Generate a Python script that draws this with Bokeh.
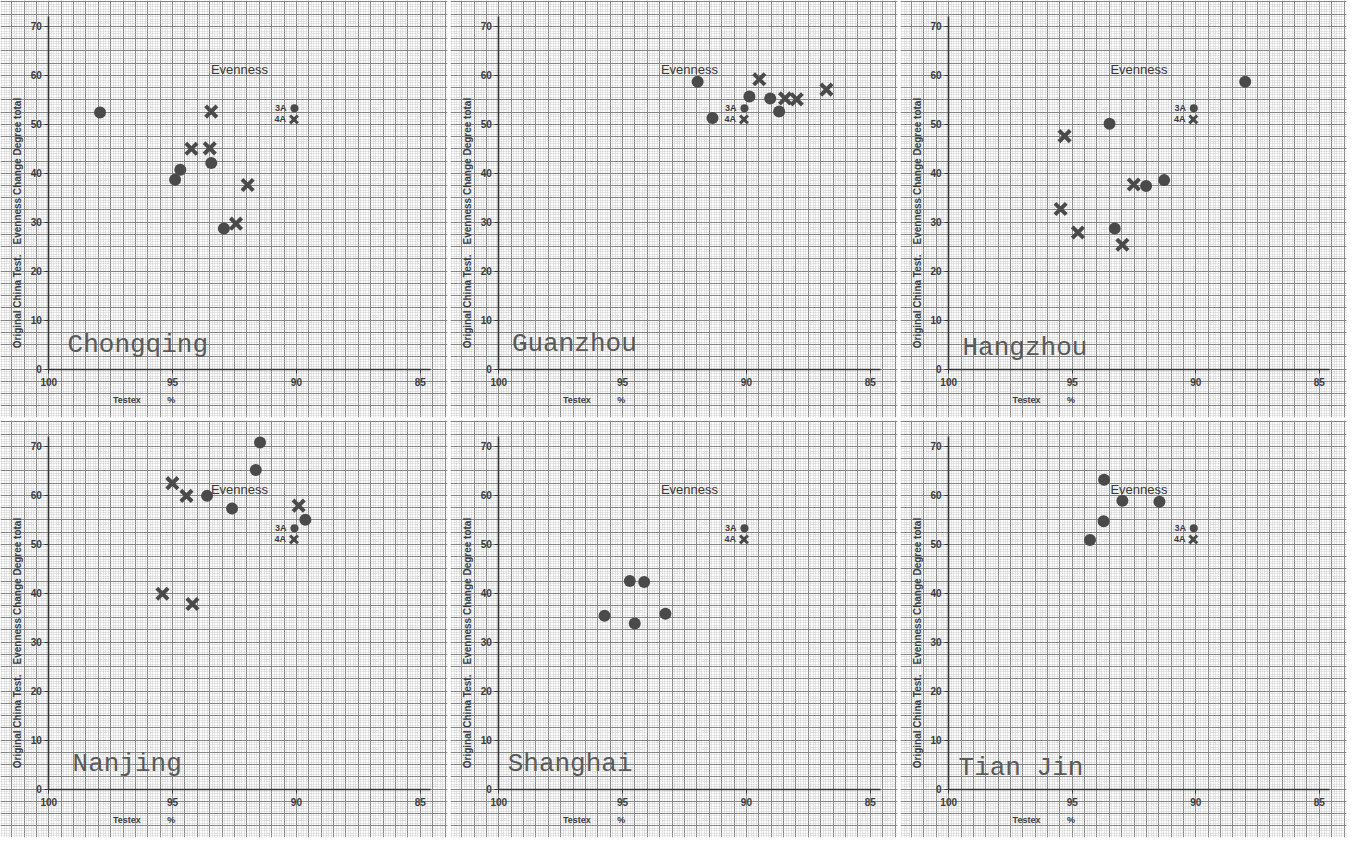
import math
from bokeh.plotting import figure
from bokeh.layouts import row, column
from bokeh.models import Range1d, LinearAxis, FixedTicker, SingleIntervalTicker, Grid
from bokeh.core.properties import value
from bokeh.embed import file_html
from bokeh.resources import INLINE

# ---------------- data ----------------
cities = ["Chongqing", "Guanzhou", "Hangzhou", "Nanjing", "Shanghai", "Tian Jin"]

x_ticks = [100, 95, 90, 85]
y_ticks = [0, 10, 20, 30, 40, 50, 60, 70]

# 3A (dots): x = Testex %, y = Evenness change degree
chongqing_dot_x = [97.93, 94.90, 94.69, 93.44, 92.93]
chongqing_dot_y = [52.4, 38.7, 40.7, 42.1, 28.7]
chongqing_x_x = [93.44, 94.24, 93.50, 91.97, 92.44]
chongqing_x_y = [52.6, 45.0, 45.1, 37.6, 29.7]

guanzhou_dot_x = [91.97, 91.37, 89.88, 89.04, 88.68]
guanzhou_dot_y = [58.7, 51.3, 55.7, 55.3, 52.6]
guanzhou_x_x = [89.48, 88.44, 87.97, 86.77]
guanzhou_x_y = [59.2, 55.3, 55.1, 57.1]

hangzhou_dot_x = [88.00, 93.49, 92.01, 91.28, 93.28]
hangzhou_dot_y = [58.7, 50.1, 37.4, 38.6, 28.7]
hangzhou_x_x = [95.31, 95.47, 94.77, 92.51, 92.97]
hangzhou_x_y = [47.6, 32.7, 27.9, 37.7, 25.4]

nanjing_dot_x = [91.47, 91.64, 93.61, 92.60, 89.64]
nanjing_dot_y = [70.8, 65.2, 59.9, 57.3, 55.0]
nanjing_x_x = [95.01, 94.44, 89.91, 95.41, 94.20]
nanjing_x_y = [62.5, 59.9, 57.9, 39.9, 37.8]

shanghai_dot_x = [95.73, 94.71, 94.13, 94.51, 93.27]
shanghai_dot_y = [35.4, 42.5, 42.3, 33.8, 35.8]
shanghai_x_x = []
shanghai_x_y = []

tianjin_dot_x = [93.71, 92.97, 91.47, 93.73, 94.28]
tianjin_dot_y = [63.2, 58.9, 58.7, 54.7, 50.9]
tianjin_x_x = []
tianjin_x_y = []

dots_x = [chongqing_dot_x, guanzhou_dot_x, hangzhou_dot_x, nanjing_dot_x, shanghai_dot_x, tianjin_dot_x]
dots_y = [chongqing_dot_y, guanzhou_dot_y, hangzhou_dot_y, nanjing_dot_y, shanghai_dot_y, tianjin_dot_y]
crosses_x = [chongqing_x_x, guanzhou_x_x, hangzhou_x_x, nanjing_x_x, shanghai_x_x, tianjin_x_x]
crosses_y = [chongqing_x_y, guanzhou_x_y, hangzhou_x_y, nanjing_x_y, shanghai_x_y, tianjin_x_y]

# city label anchor (left, baseline) in data units
city_label_x = [99.24, 99.47, 99.44, 99.04, 99.64, 99.60]
city_label_y = [5.0, 5.1, 4.4, 5.2, 5.2, 4.4]

# legend keys
legend_labels = ["3A", "4A"]
legend_x = [90.08, 90.10]
legend_y = [53.3, 51.0]

evenness_pos = (92.3, 61.2)
x_label_parts = ["Testex", "%"]
x_label_x = [96.85, 95.05]
x_label_y = -6.4
y_label_parts = ["Original  China Test.", "Evenness  Change Degree  total"]
y_label_y = [14.1, 41.0]
y_label_x = 101.25

# ---------------- styling ----------------
INK = "#4a4a4a"
SANS = "Liberation Sans"
MONO = "Liberation Mono"

widths = [450, 450, 449]
height = 420


def make_panel(i, w):
    p = figure(width=w, height=height,
               x_range=Range1d(101.95, 83.9), y_range=Range1d(-9.9, 75.3),
               x_axis_location=None, y_axis_location=None,
               toolbar_location=None, output_backend="svg",
               min_border_left=0, min_border_top=0,
               min_border_right=3, min_border_bottom=3,
               background_fill_color="white", border_fill_color="white",
               outline_line_color=None)
    p.grid.visible = False

    # graph-paper grid
    gx = Grid(dimension=0, ticker=SingleIntervalTicker(interval=0.5, num_minor_ticks=5),
              bounds=(83.0, 103.0),
              grid_line_color="#858585", grid_line_width=1,
              minor_grid_line_color="#c2c2c2", minor_grid_line_dash="1 1",
              minor_grid_line_width=0.8)
    gy = Grid(dimension=1, ticker=SingleIntervalTicker(interval=2.5, num_minor_ticks=5),
              bounds=(-15.0, 80.0),
              grid_line_color="#858585", grid_line_width=1,
              minor_grid_line_color="#c2c2c2", minor_grid_line_dash="1 1",
              minor_grid_line_width=0.8)
    p.add_layout(gx)
    p.add_layout(gy)

    # axes drawn inside the paper
    xa = LinearAxis(fixed_location=0, ticker=FixedTicker(ticks=x_ticks),
                    bounds=(84.6, 100))
    ya = LinearAxis(fixed_location=100, ticker=FixedTicker(ticks=y_ticks),
                    bounds=(0, 72))
    for a in (xa, ya):
        a.axis_line_color = "#333333"
        a.axis_line_width = 1.6
        a.major_tick_line_color = "#333333"
        a.major_tick_out = 4
        a.major_tick_in = 0
        a.minor_tick_line_color = None
        a.major_label_text_font = SANS
        a.major_label_text_font_size = "10px"
        a.major_label_text_font_style = "bold"
        a.major_label_text_color = "#3c3c3c"
        a.major_label_standoff = 3
    xa.major_label_standoff = 5
    p.add_layout(xa, "below")
    p.add_layout(ya, "left")

    # axis labels
    p.text(x=x_label_x, y=[x_label_y] * 2, text=x_label_parts,
           text_font=value(SANS), text_font_size="9px", text_font_style="bold",
           text_color="#3c3c3c", text_align="center", text_baseline="middle")
    p.text(x=[y_label_x] * 2, y=y_label_y, text=y_label_parts, angle=math.pi / 2,
           text_font=value(SANS), text_font_size="10px", text_font_style="bold",
           text_color="#3c3c3c", text_align="center", text_baseline="middle")

    # stamp "Evenness"
    p.text(x=[evenness_pos[0]], y=[evenness_pos[1]], text=["Evenness"],
           text_font=value(SANS), text_font_size="13px", text_color="#3a3a3a",
           text_align="center", text_baseline="middle")

    # legend keys
    p.text(x=[legend_x[0] + 0.32, legend_x[1] + 0.32], y=legend_y, text=legend_labels,
           text_font=value(SANS), text_font_size="9px", text_font_style="bold",
           text_color="#3c3c3c", text_align="right", text_baseline="middle")
    p.scatter(x=[legend_x[0]], y=[legend_y[0]], marker="circle", size=8,
              fill_color=INK, line_color=None)
    p.scatter(x=[legend_x[1]], y=[legend_y[1]], marker="x", size=11,
              line_color=INK, line_width=3)

    # data
    p.scatter(x=dots_x[i], y=dots_y[i], marker="circle", size=12,
              fill_color=INK, line_color=None)
    if crosses_x[i]:
        p.scatter(x=crosses_x[i], y=crosses_y[i], marker="x", size=16,
                  line_color=INK, line_width=4)

    # city name
    p.text(x=[city_label_x[i]], y=[city_label_y[i]], text=[cities[i]],
           text_font=value(MONO), text_font_size="26px", text_color="#5a5a5a",
           text_align="left", text_baseline="alphabetic")
    return p


panels = [make_panel(i, widths[i % 3]) for i in range(6)]
layout = column(row(*panels[:3]), row(*panels[3:]))

open("out.html", "w").write(file_html(layout, INLINE))
